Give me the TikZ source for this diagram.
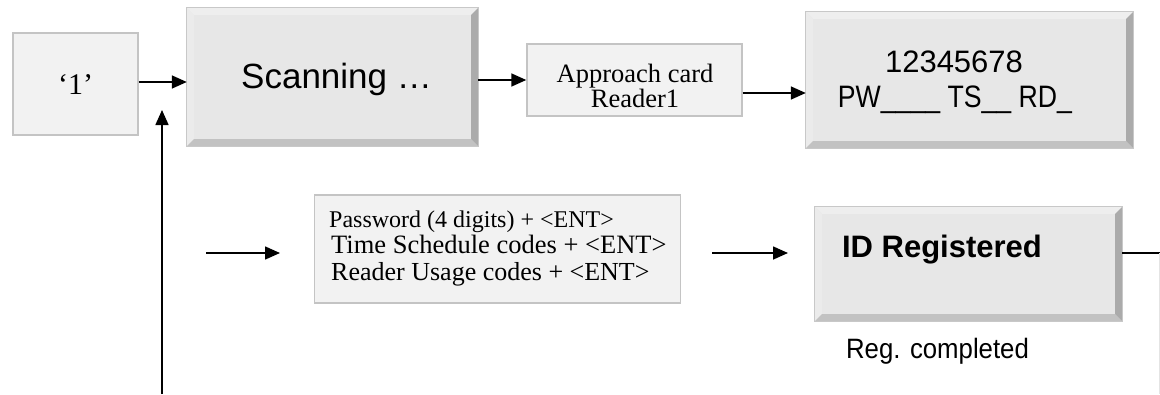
\documentclass[tikz,border=0pt]{standalone}
\usepackage{fontspec}
\setmainfont{Liberation Serif}
\setsansfont{Liberation Sans}
\newfontfamily\sansN[FakeStretch=0.92]{Liberation Sans}
\newfontfamily\sansD[FakeStretch=0.86]{Liberation Sans}
\usetikzlibrary{arrows.meta}
\definecolor{face}{HTML}{E7E7E7}
\definecolor{bevT}{HTML}{EEEEEE}
\definecolor{bevL}{HTML}{EBEBEB}
\definecolor{bevB}{HTML}{C2C2C2}
\definecolor{bevR}{HTML}{ABABAB}
\definecolor{bevline}{HTML}{C8C8C8}
\definecolor{plainfill}{HTML}{F2F2F2}
\definecolor{plainline}{HTML}{C4C4C4}
\definecolor{faint}{HTML}{E4E4E4}
\tikzset{
  plainbox/.style={draw=plainline, line width=1.4pt, fill=plainfill, inner sep=0pt},
  bevbox/.style={fill=face, inner sep=0pt},
  arr/.style={line width=1.6pt, -{Triangle[length=15pt,width=13pt]}},
  conn/.style={line width=1.6pt},
  faintline/.style={draw=faint, line width=1pt},
  txt/.style={inner sep=0pt, anchor=base},
}
\newcommand\bevelize[1]{%
  \fill[bevT] (#1.north west) -- (#1.north east) -- ([shift={(-7,7)}]#1.north east) -- ([shift={(7,7)}]#1.north west) -- cycle;
  \fill[bevL] (#1.north west) -- (#1.south west) -- ([shift={(7,-7)}]#1.south west) -- ([shift={(7,7)}]#1.north west) -- cycle;
  \fill[bevB] (#1.south west) -- (#1.south east) -- ([shift={(-7,-7)}]#1.south east) -- ([shift={(7,-7)}]#1.south west) -- cycle;
  \fill[bevR] (#1.north east) -- (#1.south east) -- ([shift={(-7,-7)}]#1.south east) -- ([shift={(-7,7)}]#1.north east) -- cycle;
  \draw[bevline, line width=1.2pt] (#1.north west) rectangle (#1.south east);
}
\begin{document}
\begin{tikzpicture}[x=1pt, y=-1pt]
\useasboundingbox (0,0) rectangle (1160,394);
% boxes
\node[plainbox, minimum width=125pt, minimum height=102pt] (one) at (75.5,84) {};
\node[bevbox, minimum width=291pt, minimum height=138pt] (scan) at (332.5,77) {};
\bevelize{scan}
\node[plainbox, minimum width=215pt, minimum height=72pt] (appr) at (634.5,80) {};
\node[bevbox, minimum width=327pt, minimum height=136pt] (code) at (969.5,80) {};
\bevelize{code}
\node[plainbox, minimum width=366pt, minimum height=108pt] (pwd) at (497.5,249) {};
\node[bevbox, minimum width=307pt, minimum height=114pt] (idb) at (968.5,264) {};
\bevelize{idb}
% texts
\node[txt, font=\fontsize{30}{34}\selectfont] (onetxt) at (75.5,94) {‘1’};
\node[txt, anchor=base west, font=\sffamily\fontsize{35}{40}\selectfont] (scantxt) at (241,88) {Scanning …};
\node[txt, font=\fontsize{26.5}{30}\selectfont] (apprA) at (635,82) {Approach card};
\node[txt, font=\fontsize{26.5}{30}\selectfont] (apprB) at (635,107) {Reader1};
\node[txt, font=\sffamily\fontsize{31}{36}\selectfont] (codeA) at (954,72) {12345678};
\node[txt, font=\sansD\fontsize{31}{36}\selectfont] (codeB) at (955,107) {PW\_\_\_\_ TS\_\_ RD\_};
\node[txt, anchor=base west, font=\fontsize{24}{28}\selectfont] (pwdA) at (329,227) {Password (4 digits) + <ENT>};
\node[txt, anchor=base west, font=\fontsize{26.5}{28}\selectfont] (pwdB) at (331,253) {Time Schedule codes + <ENT>};
\node[txt, anchor=base west, font=\fontsize{26}{28}\selectfont] (pwdC) at (331,280) {Reader Usage codes + <ENT>};
\node[txt, font=\bfseries\sffamily\fontsize{31}{36}\selectfont] (idtxt) at (942,257) {ID Registered};
\node[txt, font=\sansN\fontsize{28}{34}\selectfont] (regtxt) at (937.5,358) {Reg. completed};
% free coordinates
\coordinate (y93) at (0,93);
\coordinate (y82) at (0,82);
\coordinate (inL) at (206,253);
\coordinate (inR) at (280,253);
\coordinate (midL) at (712,253);
\coordinate (midR) at (788,253);
\coordinate (outE) at (1160,253);
\coordinate (outD) at (1159,394);
\coordinate (upB) at (162,394);
\coordinate (upT) at (162,110);
% connectors
\draw[arr] (one.east |- y82) -- (scan.west |- y82);
\draw[arr] (appr.west -| scan.east) -- (appr.west);
\draw[arr] (appr.east |- y93) -- (code.west |- y93);
\draw[arr] (inL) -- (inR);
\draw[arr] (midL) -- (midR);
\draw[conn] (idb.east |- outE) -- (outE);
\draw[faintline] (outE -| outD) -- (outD);
\draw[arr] (upB) -- (upT);
\end{tikzpicture}
\end{document}
